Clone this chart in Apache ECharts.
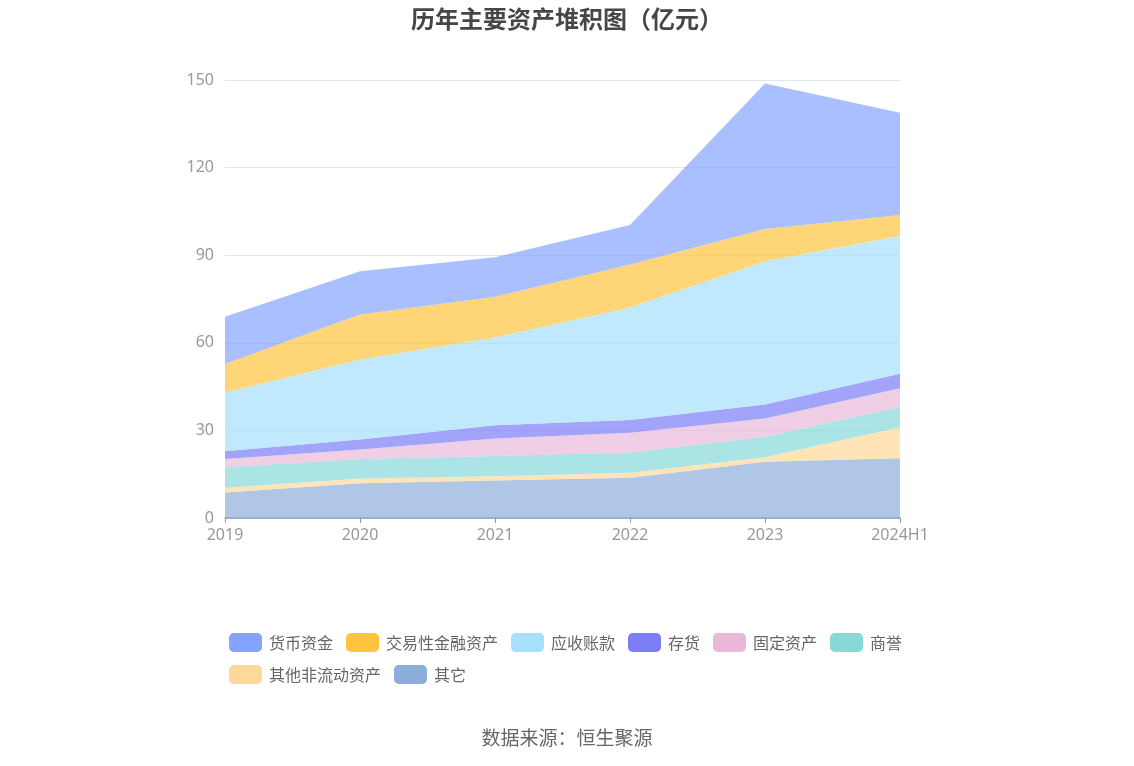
<!DOCTYPE html>
<html>
<head>
<meta charset="utf-8">
<title>历年主要资产堆积图</title>
<script src="https://cdn.jsdelivr.net/npm/echarts@6/dist/echarts.min.js"></script>
<style>
  html, body { margin: 0; padding: 0; background: #fff; }
  #main { width: 1134px; height: 766px; }
</style>
</head>
<body>
<div id="main"></div>
<script>
// 年份
var years = ['2019', '2020', '2021', '2022', '2023', '2024H1'];
// 各项资产（亿元）
var huobi = [16.2, 14.8, 13.5, 13.5, 49.8, 35.0];      // 货币资金
var jiaoyi = [9.7, 15.4, 14.0, 14.7, 11.1, 7.1];       // 交易性金融资产
var yingshou = [20.1, 27.4, 30.0, 38.5, 49.0, 47.3];   // 应收账款
var cunhuo = [2.7, 3.4, 4.6, 4.4, 4.8, 5.0];           // 存货
var guding = [2.8, 3.3, 6.0, 6.8, 6.3, 6.4];           // 固定资产
var shangyu = [7.0, 6.7, 6.9, 6.9, 7.0, 6.9];          // 商誉
var qitaFld = [1.7, 1.6, 1.5, 1.7, 1.5, 10.6];         // 其他非流动资产
var qita = [8.7, 11.9, 12.8, 13.8, 19.3, 20.5];        // 其它
var yTicks = [0, 30, 60, 90, 120, 150];

var names = ['货币资金', '交易性金融资产', '应收账款', '存货', '固定资产', '商誉', '其他非流动资产', '其它'];
var colors = ['#84a4ff', '#ffc53d', '#a6e0fc', '#7b7ef6', '#eab9da', '#88d8d8', '#ffd89a', '#8daedb'];
var datas = [huobi, jiaoyi, yingshou, cunhuo, guding, shangyu, qitaFld, qita];

// 堆叠从下往上：其它在最底层
var series = [];
for (var i = names.length - 1; i >= 0; i--) {
    series.push({
        name: names[i],
        type: 'line',
        stack: 'total',
        symbol: 'none',
        lineStyle: { width: 0 },
        itemStyle: { color: colors[i] },
        areaStyle: { color: colors[i], opacity: 0.7 },
        data: datas[i]
    });
}

var myChart = echarts.init(document.getElementById('main'));
var option = {
    animation: false,
    title: {
        text: '历年主要资产堆积图（亿元）',
        left: 'center',
        top: 2,
        textStyle: { fontSize: 24, fontWeight: 'bold', color: '#464646', fontFamily: 'Noto Sans CJK SC' }
    },
    legend: {
        data: names,
        left: 224,
        width: 700,
        top: 628,
        itemWidth: 33,
        itemHeight: 19,
        itemGap: 13,
        textStyle: { fontSize: 16, color: '#666', fontFamily: 'Noto Sans CJK SC', padding: [0, 0, 0, 2] },
        icon: 'roundRect'
    },
    grid: { left: 225, right: 234, top: 80, bottom: 248 },
    xAxis: {
        type: 'category',
        boundaryGap: false,
        data: years,
        axisLine: { lineStyle: { color: '#8c9bb5', width: 1.5 } },
        axisTick: { show: true, lineStyle: { color: '#8c9bb5' } },
        axisLabel: { color: '#999', fontSize: 16, margin: 9, fontFamily: 'Noto Sans' }
    },
    yAxis: {
        type: 'value',
        min: yTicks[0],
        max: yTicks[yTicks.length - 1],
        interval: 30,
        axisLine: { show: false },
        axisTick: { show: false },
        axisLabel: { color: '#999', fontSize: 16, margin: 11, fontFamily: 'Noto Sans' },
        splitLine: { lineStyle: { color: '#e0e6f1' } }
    },
    graphic: [{
        type: 'text',
        left: 'center',
        top: 728,
        style: { text: '数据来源：恒生聚源', fontSize: 19, fill: '#666', fontFamily: 'Noto Sans CJK SC' }
    }],
    series: series
};
myChart.setOption(option);
</script>
</body>
</html>
